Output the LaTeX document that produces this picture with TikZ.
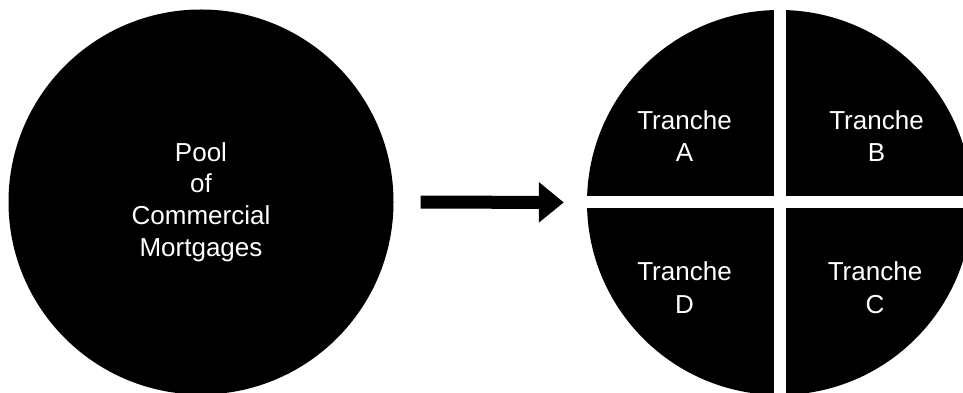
\documentclass[tikz,border=0pt]{standalone}
\usepackage{fontspec}
\setmainfont{Liberation Sans}
\usetikzlibrary{arrows.meta,calc}
\begin{document}
\begin{tikzpicture}[x=1pt,y=1pt,
  disc/.style={circle, fill=black, minimum size=385pt, inner sep=0pt},
  lbl/.style={text=white, align=center, font=\fontsize{26}{32.5}\selectfont},
  gap/.style={fill=white},
  bigarrow/.style={line width=13pt, -{Triangle[length=25pt,width=39pt]}}]
\useasboundingbox (0,0) rectangle (963,393);
\node[disc, lbl, font=\fontsize{26}{31.7}\selectfont] (pool) at (201,191) {Pool\\of\\Commercial\\Mortgages};
\node[disc] (tranches) at (779.5,190.5) {};
\fill[gap] ($(tranches.center)+(-6,-200)$) rectangle ($(tranches.center)+(6,200)$);
\fill[gap] ($(tranches.center)+(-200,-6)$) rectangle ($(tranches.center)+(200,6)$);
\node[lbl] (ta) at (684.5,257) {Tranche\\A};
\node[lbl] (tb) at (876.5,257) {Tranche\\B};
\node[lbl] (td) at (684.5,105.5) {Tranche\\D};
\node[lbl] (tc) at (875,105.5) {Tranche\\C};
\draw[bigarrow, shorten <=27pt, shorten >=23pt] (pool.east) -- (tranches.west);
\end{tikzpicture}
\end{document}
